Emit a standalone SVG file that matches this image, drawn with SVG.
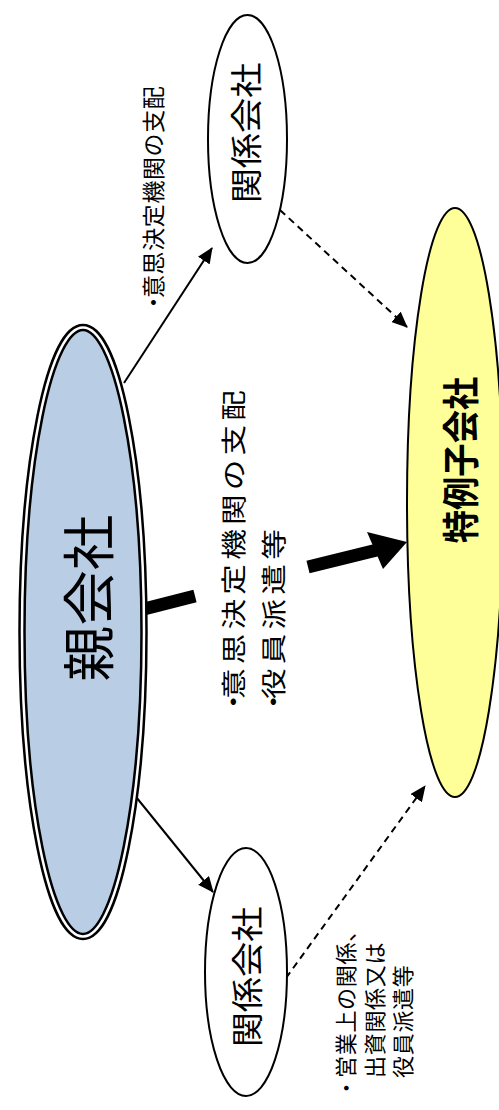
<svg xmlns="http://www.w3.org/2000/svg" width="499" height="1110" viewBox="0 0 499 1110">
<style>
  text { font-family: "Noto Sans CJK JP", "Noto Sans CJK SC", sans-serif; fill: #000; }
  .node { stroke: #000; stroke-width: 2; }
  .plain { fill: #fff; }
  .conn { stroke: #000; stroke-width: 2; fill: none; }
  .dash { stroke-dasharray: 7 5; }
  .lbl { dominant-baseline: central; }
</style>
<defs>
  <marker id="ah" viewBox="0 0 8 7" markerWidth="8" markerHeight="7" refX="7.5" refY="3.5" orient="auto" markerUnits="strokeWidth">
    <path d="M0,0 L8,3.5 L0,7 z" fill="#000" stroke="none"/>
  </marker>
</defs>
<rect width="499" height="1110" fill="#fff"/>
<g id="connectors">
  <line class="conn" x1="124" y1="383" x2="212" y2="248" marker-end="url(#ah)"/>
  <line class="conn" x1="128" y1="787" x2="213" y2="892" marker-end="url(#ah)"/>
  <line class="conn dash" x1="280" y1="210" x2="407" y2="327" marker-end="url(#ah)"/>
  <line class="conn dash" x1="286" y1="978" x2="425" y2="786" marker-end="url(#ah)"/>
  <line x1="144" y1="609" x2="195" y2="596" stroke="#000" stroke-width="13"/>
  <line x1="308" y1="567" x2="377" y2="550" stroke="#000" stroke-width="13"/>
  <polygon points="407,542 367,532 383,569" fill="#000"/>
</g>
<g id="parent">
  <ellipse cx="83" cy="632" rx="61" ry="304.5" fill="#B9CDE5" stroke="#000" stroke-width="7.5"/>
  <ellipse cx="83" cy="632" rx="61" ry="304.5" fill="none" stroke="#fff" stroke-width="2.5"/>
  <text class="lbl" transform="translate(86,598) rotate(-90) scale(1.05,1)" text-anchor="middle" font-size="53">親会社</text>
</g>
<g id="affiliate-top">
  <ellipse class="node plain" cx="247.5" cy="139" rx="39.5" ry="124"/>
  <text class="lbl" transform="translate(244,133) rotate(-90) scale(1.1,1)" text-anchor="middle" font-size="32">関係会社</text>
</g>
<g id="affiliate-bottom">
  <ellipse class="node plain" cx="246" cy="972" rx="41" ry="124"/>
  <text class="lbl" transform="translate(245,977) rotate(-90) scale(1.1,1)" text-anchor="middle" font-size="32">関係会社</text>
</g>
<g id="special-subsidiary">
  <ellipse class="node" cx="455" cy="502.5" rx="48" ry="294.5" fill="#FFFF99"/>
  <text class="lbl" transform="translate(459,460) rotate(-90) scale(0.9,1)" text-anchor="middle" font-size="37" font-weight="bold">特例子会社</text>
</g>
<g id="labels">
  <text class="lbl" transform="translate(152,298) rotate(-90)" font-size="23" letter-spacing="0.6"><tspan x="-16">・</tspan><tspan x="0">意思決定機関の支配</tspan></text>
  <text class="lbl" transform="translate(231,699) rotate(-90) scale(1.2,1)" font-size="25.5" letter-spacing="3.5"><tspan x="-15">・</tspan><tspan x="0">意思決定機関の支配</tspan></text>
  <text class="lbl" transform="translate(271,699) rotate(-90) scale(1.2,1)" font-size="25.5" letter-spacing="3.5"><tspan x="-15">・</tspan><tspan x="0">役員派遣等</tspan></text>
  <text class="lbl" transform="translate(344,1078) rotate(-90)" font-size="22" letter-spacing="0.7"><tspan x="-21">・</tspan><tspan x="0">営業上の関係、</tspan></text>
  <text class="lbl" transform="translate(373,1078) rotate(-90)" font-size="22" letter-spacing="0.7">出資関係又は</text>
  <text class="lbl" transform="translate(401,1078) rotate(-90)" font-size="22" letter-spacing="0.7">役員派遣等</text>
</g>
</svg>
